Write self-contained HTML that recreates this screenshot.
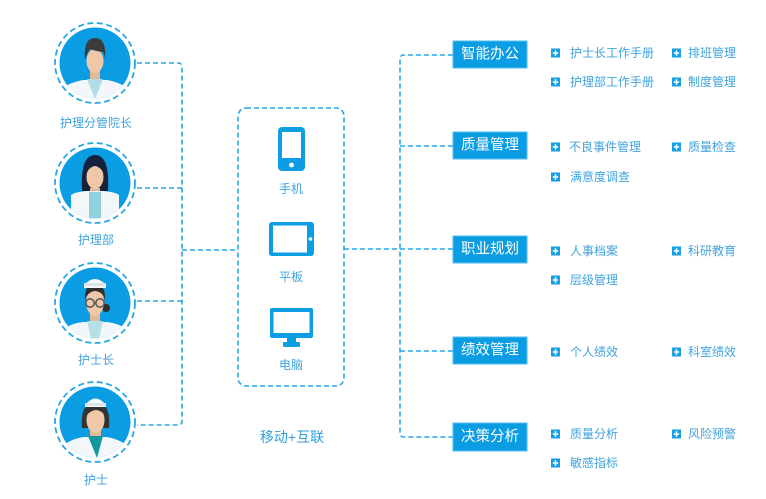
<!DOCTYPE html>
<html><head><meta charset="utf-8"><style>
html,body{margin:0;padding:0;background:#fff;}
svg{display:block;}
text{font-family:"Liberation Sans","Noto Sans CJK SC",sans-serif;}
.lb{font-size:12px;fill:#3fa3dd;}
.bx{font-size:14.5px;fill:#fff;}
.dl{fill:none;stroke:#2aa5e6;stroke-width:1.6;stroke-dasharray:5 3;}
</style></head><body>
<svg width="766" height="499" viewBox="0 0 766 499" xmlns="http://www.w3.org/2000/svg">
<defs>
<clipPath id="cc"><circle cx="0" cy="0" r="35.5"/></clipPath>
<g id="pl">
<rect x="0" y="-4.5" width="9" height="9" fill="#169fe5"/>
<path d="M1.8 0 H7.2 M4.5 -2.7 V2.7" stroke="#fff" stroke-width="1.5"/>
</g>
</defs>

<!-- left connectors -->
<path class="dl" d="M137 63 H178 Q182 63 182 67 V421 Q182 425 178 425 H137"/>
<path class="dl" d="M137 188 H182"/>
<path class="dl" d="M137 301 H182"/>
<path class="dl" d="M182 250 H238"/>

<!-- avatar 1 -->
<g transform="translate(95,63)">
<circle r="40" fill="none" stroke="#2aa5e6" stroke-width="1.8" stroke-dasharray="6 3.5"/>
<circle r="35.5" fill="#0b9de3"/>
<g clip-path="url(#cc)">
<rect x="-5" y="5" width="10" height="14" fill="#e3b896"/>
<path d="M-36 40 L-36 30 Q-32 21 -12 17 L12 17 Q32 21 36 30 L36 40 Z" fill="#f3f7f9"/>
<polygon points="-8,16 8,16 0,36" fill="#b0dde6"/>
<ellipse cx="0" cy="-2" rx="8.5" ry="12" fill="#f1c8a7"/>
<path d="M-10 -3 Q-12 -25 0 -25 Q12 -25 10 -3 Q9.5 -10 8 -11 Q0 -12 -5 -14 Q-8 -10 -10 -3 Z" fill="#3b3b3b"/>
</g>
</g>
<text class="lb" x="96" y="123" text-anchor="middle" dominant-baseline="central">护理分管院长</text>

<!-- avatar 2 -->
<g transform="translate(95,183)">
<circle r="40" fill="none" stroke="#2aa5e6" stroke-width="1.8" stroke-dasharray="6 3.5"/>
<circle r="35.5" fill="#0b9de3"/>
<g clip-path="url(#cc)">
<path d="M-13 8 Q-15 -28 0 -28 Q15 -28 13 8 Z" fill="#15223e"/>
<rect x="-5" y="5" width="10" height="10" fill="#e3b896"/>
<path d="M-24 40 L-24 12 Q-20 9 -8 8 L8 8 Q20 9 24 12 L24 40 Z" fill="#f3f7f9"/>
<rect x="-6" y="9" width="12" height="31" fill="#8fd2de"/>
<ellipse cx="0" cy="-6" rx="8.5" ry="12" fill="#f1c8a7"/>
<path d="M-10 -6 Q-11 -24 0 -24 Q11 -24 10 -6 Q7 -16 0 -17 Q-7 -16 -10 -6 Z" fill="#15223e"/>
</g>
</g>
<text class="lb" x="96" y="240" text-anchor="middle" dominant-baseline="central">护理部</text>

<!-- avatar 3 -->
<g transform="translate(95,303)">
<circle r="40" fill="none" stroke="#2aa5e6" stroke-width="1.8" stroke-dasharray="6 3.5"/>
<circle r="35.5" fill="#0b9de3"/>
<g clip-path="url(#cc)">
<circle cx="11" cy="5" r="4" fill="#2e2e2e"/>
<rect x="-5" y="11" width="10" height="10" fill="#e3b896"/>
<path d="M-36 40 L-36 32 Q-32 22 -12 19 L12 19 Q32 22 36 32 L36 40 Z" fill="#f3f7f9"/>
<polygon points="-8,18 8,18 3,40 -3,40" fill="#b5e0e8"/>
<ellipse cx="0" cy="-1" rx="9" ry="14" fill="#f1c8a7"/>
<path d="M-10 -2 Q-11 -19 0 -19 Q11 -19 10 -2 Q9 -11 0 -12 Q-8 -11 -10 -2 Z" fill="#2e2e2e"/>
<path d="M-11 -18 Q0 -30 11 -18 L11 -15 L-11 -15 Z" fill="#f6f8f9"/>
<rect x="-11" y="-20" width="22" height="3" fill="#d9e6ec"/>
<circle cx="-5" cy="0" r="4.2" fill="none" stroke="#5b5b5b" stroke-width="1.6"/>
<circle cx="5" cy="0" r="4.2" fill="none" stroke="#5b5b5b" stroke-width="1.6"/>
<line x1="-1" y1="0" x2="1" y2="0" stroke="#5b5b5b" stroke-width="1.4"/>
</g>
</g>
<text class="lb" x="96" y="360" text-anchor="middle" dominant-baseline="central">护士长</text>

<!-- avatar 4 -->
<g transform="translate(95,422)">
<circle r="40" fill="none" stroke="#2aa5e6" stroke-width="1.8" stroke-dasharray="6 3.5"/>
<circle r="35.5" fill="#0b9de3"/>
<g clip-path="url(#cc)">
<path d="M-13 6 Q-15 -20 1 -20 Q16 -20 14 6 Z" fill="#333"/>
<rect x="-5" y="8" width="11" height="10" fill="#e3b896"/>
<path d="M-36 40 L-36 30 Q-32 19 -12 15 L12 15 Q32 19 36 30 L36 40 Z" fill="#f3f7f9"/>
<polygon points="-7,14 8,14 2,36" fill="#12979e"/>
<ellipse cx="0.5" cy="-2" rx="9" ry="13" fill="#f1c8a7"/>
<path d="M-10 -3 Q-11 -18 0.5 -18 Q12 -18 11 -3 Q9 -11 1 -12 Q-7 -11 -10 -3 Z" fill="#333"/>
<path d="M-10 -17 Q0.5 -30 11 -17 L11 -15 L-10 -15 Z" fill="#f6f8f9"/>
<rect x="-10" y="-19" width="21" height="3" fill="#d9e6ec"/>
</g>
</g>
<text class="lb" x="96" y="480" text-anchor="middle" dominant-baseline="central">护士</text>

<!-- device box -->
<rect class="dl" x="238" y="108" width="106" height="278" rx="8"/>
<rect x="278" y="127" width="27" height="44" rx="4" fill="#0d9de3"/>
<rect x="282" y="132" width="19" height="26" fill="#fff"/>
<circle cx="291.5" cy="165" r="2.4" fill="#fff"/>
<text class="lb" x="291" y="189" text-anchor="middle" dominant-baseline="central">手机</text>
<rect x="269" y="222" width="45" height="34" rx="3" fill="#0d9de3"/>
<rect x="273" y="225.5" width="34" height="27" fill="#fff"/>
<circle cx="310.5" cy="239" r="1.8" fill="#fff"/>
<text class="lb" x="291" y="277" text-anchor="middle" dominant-baseline="central">平板</text>
<rect x="270" y="308" width="43" height="30" rx="2" fill="#0d9de3"/>
<rect x="273.5" y="312" width="36" height="21" fill="#fff"/>
<rect x="287" y="337" width="9" height="6" fill="#0d9de3"/>
<rect x="283" y="342" width="17" height="5" rx="1" fill="#0d9de3"/>
<text class="lb" x="291" y="365" text-anchor="middle" dominant-baseline="central">电脑</text>
<text x="292" y="437" text-anchor="middle" dominant-baseline="central" style="font-size:14px;fill:#2f9fdc;">移动+互联</text>

<!-- right connectors -->
<path class="dl" d="M344 249 H453"/>
<path class="dl" d="M453 55 H404 Q400 55 400 59 V433 Q400 437 404 437 H453"/>
<path class="dl" d="M400 146 H453"/>
<path class="dl" d="M400 351 H453"/>

<!-- boxes -->
<rect x="453" y="41" width="74" height="27" fill="#0b9de3" stroke="#56bdee" stroke-width="1"/>
<text class="bx" x="490" y="54.5" text-anchor="middle" dominant-baseline="central">智能办公</text>
<rect x="453" y="132" width="74" height="27" fill="#0b9de3" stroke="#56bdee" stroke-width="1"/>
<text class="bx" x="490" y="145.5" text-anchor="middle" dominant-baseline="central">质量管理</text>
<rect x="453" y="236" width="74" height="27" fill="#0b9de3" stroke="#56bdee" stroke-width="1"/>
<text class="bx" x="490" y="249.5" text-anchor="middle" dominant-baseline="central">职业规划</text>
<rect x="453" y="337" width="74" height="27" fill="#0b9de3" stroke="#56bdee" stroke-width="1"/>
<text class="bx" x="490" y="350.5" text-anchor="middle" dominant-baseline="central">绩效管理</text>
<rect x="453" y="423" width="74" height="28" fill="#0b9de3" stroke="#56bdee" stroke-width="1"/>
<text class="bx" x="490" y="437" text-anchor="middle" dominant-baseline="central">决策分析</text>

<use href="#pl" x="551" y="53"/><text class="lb" x="570" y="53" dominant-baseline="central">护士长工作手册</text>
<use href="#pl" x="672" y="53"/><text class="lb" x="688" y="53" dominant-baseline="central">排班管理</text>
<use href="#pl" x="551" y="82"/><text class="lb" x="570" y="82" dominant-baseline="central">护理部工作手册</text>
<use href="#pl" x="672" y="82"/><text class="lb" x="688" y="82" dominant-baseline="central">制度管理</text>

<use href="#pl" x="551" y="147"/><text class="lb" x="569" y="147" dominant-baseline="central">不良事件管理</text>
<use href="#pl" x="672" y="147"/><text class="lb" x="688" y="147" dominant-baseline="central">质量检查</text>
<use href="#pl" x="551" y="177"/><text class="lb" x="570" y="177" dominant-baseline="central">满意度调查</text>

<use href="#pl" x="551" y="251"/><text class="lb" x="570" y="251" dominant-baseline="central">人事档案</text>
<use href="#pl" x="672" y="251"/><text class="lb" x="688" y="251" dominant-baseline="central">科研教育</text>
<use href="#pl" x="551" y="280"/><text class="lb" x="570" y="280" dominant-baseline="central">层级管理</text>

<use href="#pl" x="551" y="352"/><text class="lb" x="570" y="352" dominant-baseline="central">个人绩效</text>
<use href="#pl" x="672" y="352"/><text class="lb" x="688" y="352" dominant-baseline="central">科室绩效</text>

<use href="#pl" x="551" y="434"/><text class="lb" x="570" y="434" dominant-baseline="central">质量分析</text>
<use href="#pl" x="672" y="434"/><text class="lb" x="688" y="434" dominant-baseline="central">风险预警</text>
<use href="#pl" x="551" y="463"/><text class="lb" x="570" y="463" dominant-baseline="central">敏感指标</text>
</svg>
</body></html>
